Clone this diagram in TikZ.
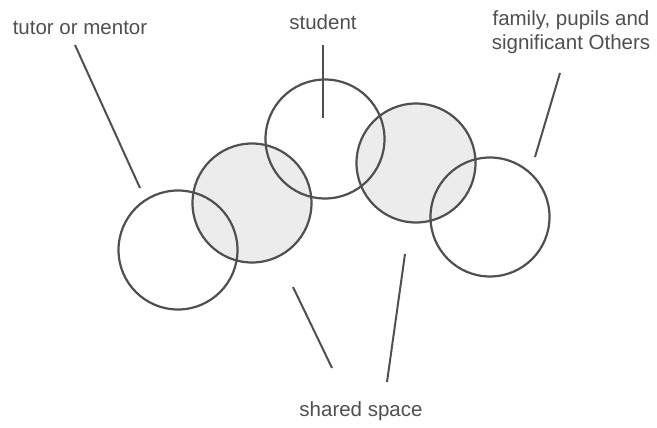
\documentclass[tikz,border=0pt]{standalone}
\usepackage{fontspec}
\setmainfont{Liberation Sans}
\usetikzlibrary{positioning,calc}
\definecolor{InkGray}{RGB}{80,80,80}
\definecolor{ShadeGray}{RGB}{236,236,236}
\tikzset{
  ring/.style      ={circle, draw=InkGray, line width=2.2pt, minimum size=119pt, inner sep=0pt},
  ringshade/.style ={circle, fill=ShadeGray, minimum size=119pt, inner sep=0pt},
  lbl/.style       ={text=InkGray, font=\fontsize{20.5}{24}\selectfont, align=center, inner sep=0pt},
  lead/.style      ={draw=InkGray, line width=2pt},
}
\begin{document}
\begin{tikzpicture}[x=1pt,y=-1pt]
  \useasboundingbox[fill=white] (0,0) rectangle (657,428);
  % shaded circles first, outlines on top
  \node[ringshade] at (252,203) {};
  \node[ringshade] at (416,163) {};
  \node[ring] (c1) at (178,250) {};
  \node[ring] (c2) at (252,203) {};
  \node[ring] (c3) at (325,139) {};
  \node[ring] (c4) at (416,163) {};
  \node[ring] (c5) at (490,217) {};
  % labels
  \node[lbl] (tutor)   at (80,28)  {tutor or mentor};
  \node[lbl] (student) at (323,22) {student};
  \node[lbl] (others)  at (571,32) {family, pupils and\\significant Others};
  \node[lbl] (shared)  at (361,411) {shared space};
  % leader lines
  \coordinate (t1) at (75,45);   \coordinate (t2) at (140,188);
  \coordinate (s1) at (323,45);  \coordinate (s2) at (323,118);
  \coordinate (o1) at (560,73);  \coordinate (o2) at (535,157);
  \coordinate (a1) at (293,287); \coordinate (a2) at (332,368);
  \coordinate (b1) at (405,254); \coordinate (b2) at (387,382);
  \foreach \a/\b in {t1/t2,s1/s2,o1/o2,a1/a2,b1/b2}{\draw[lead] (\a) -- (\b);}
\end{tikzpicture}
\end{document}
